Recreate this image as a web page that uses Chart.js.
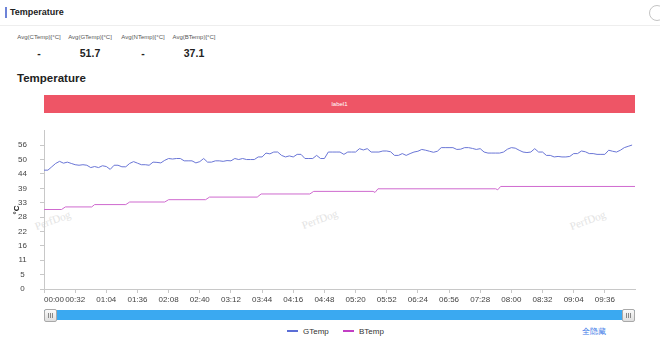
<!DOCTYPE html>
<html>
<head>
<meta charset="utf-8">
<script src="https://cdn.jsdelivr.net/npm/chart.js@4.4.1/dist/chart.umd.min.js"></script>
<style>
  body { margin: 0; width: 660px; height: 344px; position: relative; overflow: hidden; background: #fff;
         font-family: "Liberation Sans", Arial, Helvetica, sans-serif; color: #222; }
  .abs { position: absolute; }
  .panel-bar { left: 5px; top: 7px; width: 2px; height: 11px; background: #6d83d8; }
  .panel-title { left: 10px; top: 7px; font-size: 9px; font-weight: bold; }
  .panel-line { left: 0; top: 25px; width: 660px; height: 1px; background: #eeeeee; }
  .panel-btn { left: 649px; top: 5px; width: 14px; height: 14px; border: 1px solid #c4c4c4; border-radius: 50%; }
  .stat { top: 34px; width: 60px; text-align: center; }
  .stat .k { font-size: 6px; color: #555; height: 10px; }
  .stat .v { font-size: 10.5px; font-weight: bold; color: #222; margin-top: 3px; }
  .chart-title { left: 17px; top: 72px; font-size: 11.5px; font-weight: bold; }
  .label-bar { left: 44px; top: 95px; width: 591px; height: 18px; background: #ee5566; color: #fff;
               font-size: 6px; line-height: 18px; text-align: center; }
  .wm { font-family: "Liberation Serif", "DejaVu Serif", serif; font-size: 11px; color: #e3e3e3;
        transform: rotate(-20deg); transform-origin: center; white-space: nowrap; }
  #wrap { left: 0; top: 113px; width: 660px; height: 195px; }
  .slider { left: 44px; top: 310px; width: 591px; height: 10px; background: #3aa9f1; }
  .handle { top: 309px; width: 11px; height: 11px; border: 1px solid #a9a9a9; border-radius: 2px;
            background: linear-gradient(#fafafa, #dedede); }
  .handle i { position: absolute; top: 3px; width: 1px; height: 5px; background: #888; }
  .legend { top: 326px; font-size: 8px; color: #333; line-height: 12px; }
  .legend b { display: inline-block; width: 11px; height: 2px; vertical-align: middle; margin-right: 5px; margin-top: -1px; }
  .hide-all { left: 582px; top: 326px; font-size: 8px; color: #3b78e7; line-height: 12px; }
</style>
</head>
<body>

<div class="abs panel-bar"></div>
<div class="abs panel-title">Temperature</div>
<div class="abs panel-line"></div>
<div class="abs panel-btn"></div>

<div id="stats"></div>

<div class="abs chart-title">Temperature</div>
<div class="abs label-bar">label1</div>

<div class="abs wm" style="left:34px; top:214px;">PerfDog</div>
<div class="abs wm" style="left:301px; top:213px;">PerfDog</div>
<div class="abs wm" style="left:569px; top:214px;">PerfDog</div>

<div class="abs" id="wrap"><canvas id="tempChart"></canvas></div>

<div class="abs slider"></div>
<div class="abs handle" style="left:44px;"><i style="left:3px"></i><i style="left:5px"></i><i style="left:7px"></i></div>
<div class="abs handle" style="left:622px;"><i style="left:3px"></i><i style="left:5px"></i><i style="left:7px"></i></div>

<div class="abs legend" style="left:287px;"><b style="background:#5b6ed6"></b>GTemp</div>
<div class="abs legend" style="left:343px;"><b style="background:#c23fc4"></b>BTemp</div>
<div class="abs hide-all">全隐藏</div>

<script>
// summary row
const statNames = ["Avg(CTemp)[°C]", "Avg(GTemp)[°C]", "Avg(NTemp)[°C]", "Avg(BTemp)[°C]"];
const statValues = ["-", "51.7", "-", "37.1"];

// axis labels
const yTickLabels = ["0", "5", "11", "16", "22", "28", "33", "39", "44", "50", "56"];
const yAxisMax = 61.1;
const xTickLabels = ["00:00", "00:32", "01:04", "01:36", "02:08", "02:40", "03:12", "03:44", "04:16",
  "04:48", "05:20", "05:52", "06:24", "06:56", "07:28", "08:00", "08:32", "09:04", "09:36"];
const xAxisMax = 607; // seconds

// GTemp, one sample every 4 s
const gTempStep = 4;
const gTempValues = [
  45.9, 45.9, 47.2, 48.5, 49.3, 48.6, 49.0, 48.5, 48.0, 47.8,
  48.0, 47.8, 46.9, 47.3, 46.9, 47.6, 47.3, 46.2, 47.8, 47.8,
  47.2, 47.2, 48.5, 49.2, 48.6, 48.0, 48.0, 47.8, 49.0, 48.9,
  48.7, 49.7, 50.4, 50.2, 50.4, 50.4, 49.5, 49.5, 49.5, 48.7,
  49.2, 50.4, 49.0, 49.0, 49.5, 49.5, 49.3, 49.6, 49.5, 50.4,
  50.0, 50.4, 50.0, 50.0, 50.0, 51.0, 51.0, 52.5, 52.2, 52.9,
  52.9, 51.6, 51.0, 51.4, 51.0, 52.0, 52.0, 50.4, 50.4, 50.4,
  51.6, 50.4, 50.4, 52.9, 52.9, 52.9, 52.9, 52.0, 52.9, 52.9,
  52.9, 54.2, 53.7, 54.2, 52.9, 52.9, 52.9, 53.3, 53.3, 53.0,
  51.6, 51.6, 52.3, 51.6, 52.3, 52.9, 53.2, 53.9, 53.6, 53.2,
  52.8, 53.2, 54.6, 54.6, 54.6, 54.6, 53.9, 54.0, 54.6, 54.6,
  54.3, 53.9, 54.2, 52.9, 52.5, 52.5, 52.5, 52.5, 52.9, 54.0,
  54.6, 54.4, 53.6, 52.9, 52.7, 52.9, 54.2, 52.9, 52.9, 51.6,
  51.6, 51.0, 51.2, 51.0, 51.0, 51.2, 52.3, 52.3, 53.3, 53.0,
  52.3, 52.3, 52.0, 52.0, 52.0, 53.6, 53.2, 52.9, 53.6, 54.6,
  55.1, 55.6
];

// BTemp only changes in steps, so keep the change points
const bTempTimes = [0, 18, 22, 49, 52, 84, 88, 124, 128, 166, 170, 219, 223, 273, 277, 338, 340, 343, 464, 466, 469, 607];
const bTempValues = [30.7, 30.7, 31.7, 31.7, 32.6, 32.6, 33.6, 33.6, 34.5, 34.5, 35.5, 35.5, 36.7, 36.7,
  37.7, 37.7, 37.3, 38.7, 38.7, 38.3, 39.6, 39.6];

const stats = document.getElementById("stats");
const statCenters = [39, 90, 143, 194];
statNames.forEach((name, i) => {
  const d = document.createElement("div");
  d.className = "abs stat";
  d.style.left = (statCenters[i] - 30) + "px";
  d.innerHTML = `<div class="k">${name}</div><div class="v">${statValues[i]}</div>`;
  stats.appendChild(d);
});

const toSeconds = (s) => {
  const [m, sec] = s.split(":").map(Number);
  return m * 60 + sec;
};

const gTempData = gTempValues.map((v, i) => ({ x: i * gTempStep, y: v }));
const bTempData = bTempTimes.map((t, i) => ({ x: t, y: bTempValues[i] }));

const axisColor = "#c8c8c8";
const tickFont = { family: "'Liberation Sans', Arial, sans-serif", size: 8 };

new Chart(document.getElementById("tempChart"), {
  type: "line",
  data: {
    datasets: [
      {
        label: "GTemp",
        data: gTempData,
        borderColor: "#6a76d6",
        borderWidth: 1,
        pointRadius: 0,
        tension: 0,
      },
      {
        label: "BTemp",
        data: bTempData,
        borderColor: "#cf6acf",
        borderWidth: 1,
        pointRadius: 0,
        tension: 0,
      },
    ],
  },
  options: {
    responsive: true,
    maintainAspectRatio: false,
    animation: false,
    // y tick padding already reserves the room above the plot
    layout: { padding: { top: 0, right: 25, left: 0, bottom: 0 } },
    plugins: {
      legend: { display: false },
      tooltip: { enabled: false },
    },
    scales: {
      x: {
        type: "linear",
        min: 0,
        max: xAxisMax,
        afterBuildTicks: (scale) => {
          scale.ticks = xTickLabels.map((l) => ({ value: toSeconds(l) }));
          scale.ticks.push({ value: xAxisMax });
        },
        afterFit: (scale) => { scale.height = 19; },
        ticks: {
          autoSkip: false,
          maxRotation: 0,
          align: "inner",
          padding: 2,
          color: "#444",
          font: tickFont,
          callback: (v, i) => xTickLabels[i] || "",
        },
        grid: {
          drawOnChartArea: false,
          tickLength: 4,
          tickColor: (ctx) => (ctx.index >= xTickLabels.length ? "transparent" : axisColor),
        },
        border: { color: axisColor },
      },
      y: {
        min: 0,
        max: yAxisMax,
        afterBuildTicks: (scale) => {
          scale.ticks = yTickLabels.map((l, i) => ({ value: (i * yAxisMax) / 11 }));
        },
        afterFit: (scale) => { scale.width = 44; },
        ticks: {
          autoSkip: false,
          crossAlign: "center",
          padding: 13,
          color: "#444",
          font: tickFont,
          callback: (v, i) => yTickLabels[i],
        },
        grid: {
          drawOnChartArea: false,
          tickLength: 4,
          tickColor: axisColor,
        },
        border: { color: axisColor },
        title: {
          display: true,
          text: "°C",
          color: "#222",
          font: { family: "'Liberation Sans', Arial, sans-serif", size: 8, weight: "bold" },
          padding: { top: 12, bottom: 0 },
        },
      },
    },
  },
});
</script>
</body>
</html>
